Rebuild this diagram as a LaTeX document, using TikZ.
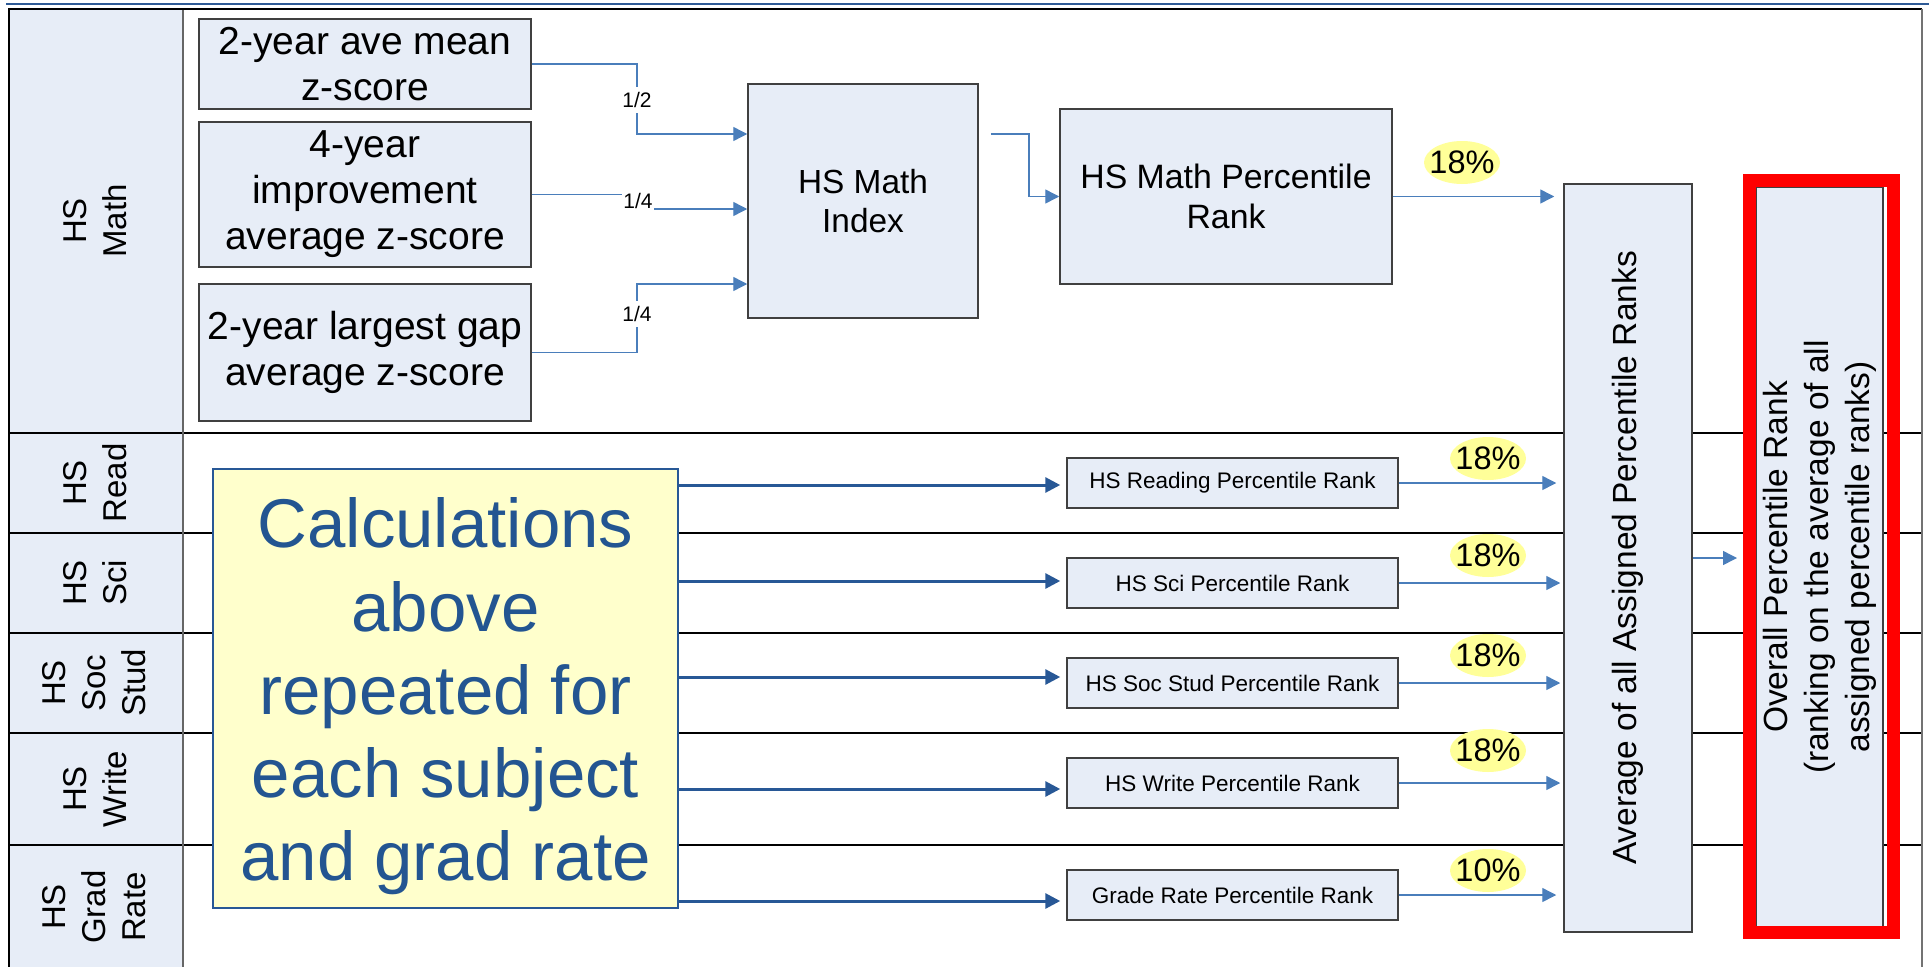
\documentclass[tikz,border=0pt]{standalone}
\usepackage{fontspec}
\setmainfont{Liberation Sans}
\usetikzlibrary{arrows.meta,shapes.geometric}
\definecolor{boxfill}{RGB}{231,237,247}
\definecolor{boxdraw}{RGB}{64,64,64}
\definecolor{thinblue}{RGB}{74,126,187}
\definecolor{darkblue}{RGB}{40,88,150}
\definecolor{calctext}{RGB}{35,85,145}
\definecolor{calcfill}{RGB}{255,255,204}
\definecolor{pctfill}{RGB}{255,255,153}
\definecolor{topline}{RGB}{46,90,150}
\begin{document}
\begin{tikzpicture}[x=1pt,y=-1pt,
  lbox/.style={draw=boxdraw, fill=boxfill, line width=1.5pt, inner sep=0pt, align=center,
    font=\fontsize{39}{46}\selectfont},
  rbox/.style={lbox, font=\fontsize{22.5}{27}\selectfont, minimum width=331pt, minimum height=50pt},
  hdr/.style={rotate=90, align=center, inner sep=0pt, font=\fontsize{33}{40}\selectfont},
  vtext/.style={rotate=90, align=center, inner sep=0pt, font=\fontsize{33.5}{41}\selectfont},
  calcbox/.style={draw=darkblue, fill=calcfill, line width=2.8pt, inner sep=0pt},
  calctext/.style={align=center, inner sep=0pt, text=calctext, font=\fontsize{69}{83.3}\selectfont},
  pct/.style={ellipse, fill=pctfill, minimum width=76pt, minimum height=43pt, inner sep=0pt},
  pcttext/.style={inner sep=0pt, font=\fontsize{32.5}{38}\selectfont},
  frac/.style={fill=white, inner xsep=1pt, inner ysep=5pt, font=\fontsize{21}{24}\selectfont},
  thinarrow/.style={draw=thinblue, line width=1.4pt, -{Triangle[length=14pt,width=14pt]}},
  thickarrow/.style={draw=darkblue, line width=3pt, -{Triangle[length=15pt,width=15pt]}},
  lanesep/.style={draw=black, line width=1.5pt}
]
\useasboundingbox (0,0) rectangle (1929,966);
\clip (0,0) rectangle (1929,966);

% top rule
\draw[topline, line width=2.2pt] (6,3.7) -- (1929,3.7);
% header column
\fill[boxfill] (9,9) rectangle (183,990);
% lane separators
\draw[lanesep] (9,433) -- (1922,433);
\draw[lanesep] (9,533) -- (1922,533);
\draw[lanesep, line width=2pt] (9,633) -- (1922,633);
\draw[lanesep, line width=2pt] (9,733) -- (1922,733);
\draw[lanesep] (9,845) -- (1922,845);
% frame
\draw[black!60, line width=1.5pt] (183,9) -- (183,990);
\draw[black, line width=1.5pt] (9,990) -- (9,9) -- (1922,9);
\draw[black!55, line width=2pt] (1922,9) -- (1922,990);

% lane headers
\node[hdr] (hMath) at (95,221) {HS\\Math};
\node[hdr] (hRead) at (95,483) {HS\\Read};
\node[hdr] (hSci) at (95,583) {HS\\Sci};
\node[hdr] (hSoc) at (94,683) {HS\\Soc\\Stud};
\node[hdr] (hWrite) at (95,789) {HS\\Write};
\node[hdr] (hGrad) at (94,907) {HS\\Grad\\Rate};

% math inputs
\node[lbox, minimum width=332pt, minimum height=90pt] (b1) at (365,64) {2-year ave mean\\z-score};
\node[lbox, minimum width=332pt, minimum height=145pt] (b2) at (365,194.5) {4-year\\improvement\\average z-score};
\node[lbox, minimum width=332pt, minimum height=137pt] (b3) at (365,352.5) {2-year largest gap\\average z-score};
\node[lbox, font=\fontsize{33.4}{39}\selectfont, minimum width=230pt, minimum height=234pt] (idx) at (863,201) {HS Math\\Index};
\node[lbox, font=\fontsize{33.8}{40}\selectfont, minimum width=332pt, minimum height=175pt] (pr) at (1226,196.5) {HS Math Percentile\\Rank};

% other subject ranks
\node[rbox] (rr1) at (1232.5,483) {HS Reading Percentile Rank};
\node[rbox] (rr2) at (1232.5,583) {HS Sci Percentile Rank};
\node[rbox] (rr3) at (1232.5,683) {HS Soc Stud Percentile Rank};
\node[rbox] (rr4) at (1232.5,783) {HS Write Percentile Rank};
\node[rbox] (rr5) at (1232.5,895) {Grade Rate Percentile Rank};

% average box
\node[lbox, minimum width=128pt, minimum height=748pt] (avg) at (1628,558) {};
\node[vtext] (avgtext) at (avg.center) {Average of all Assigned Percentile Ranks};

% overall box with red highlight
\node[lbox, minimum width=127pt, minimum height=740pt] (ov) at (1819.5,557) {};
\node[vtext] (ovtext) at (ov.center) {Overall Percentile Rank\\(ranking on the average of all\\assigned percentile ranks)};
\node[draw=red, line width=13pt, minimum width=144pt, minimum height=752pt, inner sep=0pt] (hl) at (1821.5,556.5) {};

% calculations note
\node[calcbox, minimum width=465pt, minimum height=439pt] (calc) at (445.5,688.5) {};
\node[calctext] (calctxt) at (445.5,696.5) {Calculations\\above\\repeated for\\each subject\\and grad rate};

% connectors into index
\coordinate (j1) at (637,134);
\coordinate (j2) at (638,209);
\coordinate (j3) at (637,284);
\coordinate (j4) at (1029,196.5);
\draw[thinarrow] (b1.east) -| (j1) -- (j1 -| idx.west);
\draw[thinarrow] (b2.east) -- (b2.east -| j2) |- (j2 -| idx.west);
\draw[thinarrow] (b3.east) -| (j3) -- (j3 -| idx.west);
\node[frac] (w1) at (637,100) {1/2};
\node[frac] (w2) at (638,201) {1/4};
\node[frac] (w3) at (637,314) {1/4};

\draw[thinarrow, shorten <=12pt] (idx.east |- j1) -| (j4) -- (pr.west);
\draw[thinarrow, shorten >=9pt] (pr.east) -- (pr.east -| avg.west);

% subject rank connectors
\draw[thinarrow, shorten >=7pt] (rr1.east) -- (rr1.east -| avg.west);
\draw[thinarrow, shorten >=3pt] (rr2.east) -- (rr2.east -| avg.west);
\draw[thinarrow, shorten >=3pt] (rr3.east) -- (rr3.east -| avg.west);
\draw[thinarrow, shorten >=3pt] (rr4.east) -- (rr4.east -| avg.west);
\draw[thinarrow, shorten >=7pt] (rr5.east) -- (rr5.east -| avg.west);
\draw[thinarrow, shorten >=6pt] (avg.east) -- (avg.east -| hl.west);

% thick arrows from the note
\draw[thickarrow, shorten >=6pt] (calc.east |- 0,485) -- (rr1.west |- 0,485);
\draw[thickarrow, shorten >=6pt] (calc.east |- 0,581) -- (rr2.west |- 0,581);
\draw[thickarrow, shorten >=6pt] (calc.east |- 0,677) -- (rr3.west |- 0,677);
\draw[thickarrow, shorten >=6pt] (calc.east |- 0,789) -- (rr4.west |- 0,789);
\draw[thickarrow, shorten >=6pt] (calc.east |- 0,901) -- (rr5.west |- 0,901);

% weights
\node[pct] (e0) at (1462,162.5) {};
\node[pcttext] at (e0) {18\%};
\node[pct] (e1) at (1488,458.5) {};
\node[pcttext] at (e1) {18\%};
\node[pct] (e2) at (1488,555.5) {};
\node[pcttext] at (e2) {18\%};
\node[pct] (e3) at (1488,655.5) {};
\node[pcttext] at (e3) {18\%};
\node[pct] (e4) at (1488,750.5) {};
\node[pcttext] at (e4) {18\%};
\node[pct] (e5) at (1488,870.5) {};
\node[pcttext] at (e5) {10\%};
\end{tikzpicture}
\end{document}
